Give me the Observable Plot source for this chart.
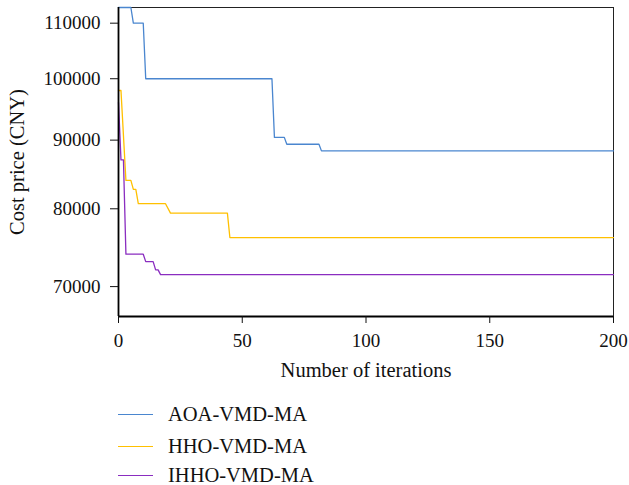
<!DOCTYPE html>
<html>
<head>
<meta charset="utf-8">
<script src="https://cdn.jsdelivr.net/npm/d3@7"></script>
<script src="https://cdn.jsdelivr.net/npm/@observablehq/plot@0.6"></script>
<style>
  body { margin: 0; background: #fff; }
  #wrap { position: relative; width: 629px; height: 485px; font-family: "Liberation Serif", serif; }
  .leg { position: absolute; left: 0; width: 629px; height: 30px; }
  .leg .ln { position: absolute; left: 118px; width: 35px; height: 0; border-top: 1.5px solid; top: 0; }
  .leg .tx { position: absolute; left: 168px; top: -12px; font-size: 20.5px; line-height: 24px; color: #111; }
</style>
</head>
<body>
<div id="wrap"><div id="chart"></div><div id="legend"></div></div>
<script>
const seriesNames = ["AOA-VMD-MA", "HHO-VMD-MA", "IHHO-VMD-MA"];
const seriesColors = ["#4a86cf", "#ffc000", "#8a2dc0"];

const aoaIter = [0, 5, 6, 10, 11, 62, 63, 67, 68, 81, 82, 200];
const aoaCost = [113000, 113000, 110000, 110000, 100000, 100000, 90430, 90430, 89370, 89370, 88360, 88360];

const hhoIter = [0, 1, 3, 5, 6, 7, 8, 19, 21, 44, 45, 200];
const hhoCost = [98000, 98000, 84000, 84000, 82700, 82700, 80700, 80700, 79400, 79400, 76150, 76150];

const ihhoIter = [0, 1, 2, 3, 10, 11, 14, 15, 16, 17, 200];
const ihhoCost = [96000, 87000, 87000, 74000, 74000, 73070, 73070, 72040, 72040, 71460, 71460];

const xTicks = [0, 50, 100, 150, 200];
const yTicks = [70000, 80000, 90000, 100000, 110000];

const rows = [];
[[aoaIter, aoaCost], [hhoIter, hhoCost], [ihhoIter, ihhoCost]].forEach(([it, c], k) => {
  it.forEach((x, i) => rows.push({series: seriesNames[k], iter: x, cost: c[i]}));
});

const yDomain = [66500, 113000];

const chart = Plot.plot({
  width: 629,
  height: 390,
  marginLeft: 118,
  marginRight: 16,
  marginTop: 7,
  marginBottom: 74,
  style: {fontFamily: "Liberation Serif, serif", fontSize: "19px", color: "#111", background: "#fff"},
  x: {domain: [0, 200]},
  y: {type: "log", domain: yDomain},
  color: {domain: seriesNames, range: seriesColors},
  marks: [
    Plot.frame({stroke: "#222", strokeWidth: 1}),
    Plot.line(rows, {x: "iter", y: "cost", z: "series", stroke: "series", strokeWidth: 1.3}),
    Plot.ruleX([0], {stroke: "#000", strokeWidth: 1.8}),
    Plot.ruleY([yDomain[0]], {stroke: "#000", strokeWidth: 1.8}),
    Plot.axisX({ticks: xTicks, tickSize: 7, tickPadding: 10, tickFormat: d3.format("d"),
      label: "Number of iterations", labelAnchor: "center", labelArrow: "none", labelOffset: 60,
      fontSize: 19}),
    Plot.axisY({ticks: yTicks, tickSize: 8, tickPadding: 10, tickFormat: d3.format("d"),
      label: "Cost price (CNY)", labelAnchor: "center", labelArrow: "none", labelOffset: 109,
      fontSize: 19})
  ]
});
chart.querySelectorAll("[aria-label='x-axis label'] text, [aria-label='y-axis label'] text").forEach(t => t.style.fontSize = "20.5px");
document.getElementById("chart").appendChild(chart);

const legend = document.getElementById("legend");
const legendTops = [414, 446, 475];
seriesNames.forEach((name, i) => {
  const d = document.createElement("div");
  d.className = "leg";
  d.style.top = legendTops[i] + "px";
  d.innerHTML = `<div class="ln" style="border-color:${seriesColors[i]}"></div><div class="tx">${name}</div>`;
  legend.appendChild(d);
});
</script>
</body>
</html>
